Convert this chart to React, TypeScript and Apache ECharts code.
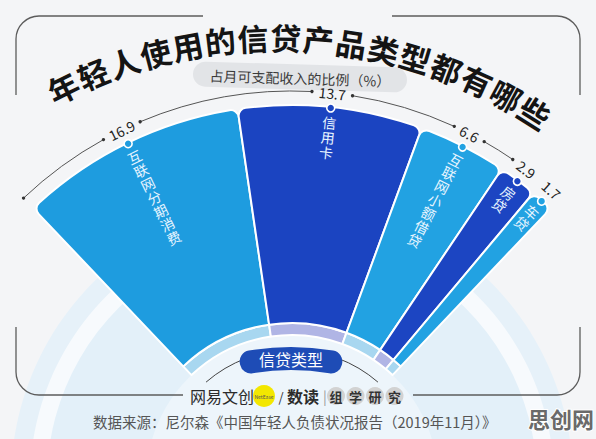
import React, { useEffect, useRef } from "react";
import * as echarts from "echarts";

const categories = ["互联网分期消费", "信用卡", "互联网小额借贷", "房贷", "车贷"];
const values = [16.9, 13.7, 6.6, 2.9, 1.7];
const valueLabels = ["16.9", "13.7", "6.6", "2.9", "1.7"];
const titleText = "年轻人使用的信贷产品类型都有哪些";
const subtitleText = "占月可支配收入的比例（%）";
const centerLabel = "信贷类型";
const brandMain = "网易文创";
const brandSub = "数读";
const brandCircles = ["组", "学", "研", "究"];
const sourceText = "数据来源：尼尔森《中国年轻人负债状况报告（2019年11月）》";
const watermark = "思创网";

const mainColors = ["#1e9cdf", "#1b44c1", "#22a2e2", "#1c45c2", "#22a2e2"];
const bandColors = ["#a8d7f0", "#b0b5e5", "#a8d7f0", "#b0b5e5", "#a8d7f0"];

const FONT = '"Noto Sans CJK SC", "Noto Sans", sans-serif';
const CX = 292;
const CY = 481;
const R_OUT = 376;
const R_IN = 158;
const R_BAND = 146;
const START = -43.5;
const SPAN = 87;

const framePath =
  "M16 95 L16 39 A23 23 0 0 1 39 16 L203 16 M392 16 L557 16 A23 23 0 0 1 580 39 L580 95 M16 327 L16 372 A23 23 0 0 0 39 395 L183 395 M413 395 L557 395 A23 23 0 0 0 580 372 L580 327";
echarts.graphic.registerShape("frame", echarts.graphic.extendPath(framePath, {}) as any);

const rad = (d: number) => (d * Math.PI) / 180;
const polar = (r: number, deg: number, cx = CX, cy = CY) => [cx + r * Math.sin(rad(deg)), cy - r * Math.cos(rad(deg))];
const screenAng = (deg: number) => rad(deg - 90);

export default function App() {
  const ref = useRef<HTMLDivElement>(null);
  useEffect(() => {
    if (!ref.current) return;
    const chart = echarts.init(ref.current, undefined, { renderer: "svg" });
    const total = values.reduce((a, b) => a + b, 0);
    let acc = START;
    const mids = values.map((v) => {
      const s = acc;
      acc += (v / total) * SPAN;
      return (s + acc) / 2;
    });

    const els: any[] = [];
    // background rings
    els.push({ type: "circle", z: 0, shape: { cx: CX, cy: CY, r: 281 }, style: { fill: "#e6f1f9" } });
    els.push({ type: "circle", z: 0, shape: { cx: CX, cy: CY, r: 262 }, style: { fill: "#f7fafd" } });
    els.push({ type: "circle", z: 0, shape: { cx: CX, cy: CY, r: 245 }, style: { fill: "#e3f0f9" } });
    els.push({ type: "circle", z: 0, shape: { cx: CX, cy: CY, r: R_BAND }, style: { fill: "#edf5fb" } });

    // frame
    els.push({ type: "frame", z: 10, x: 0, y: 0, style: { fill: "none", stroke: "#5c5c5c", lineWidth: 1.3 } });

    // title along arc
    const TCX = 277, TCY = 520, TR = 483;
    const tStart = -26.3, tEnd = 32.3;
    const tChars = titleText.split("");
    tChars.forEach((ch, i) => {
      const d = tStart + ((tEnd - tStart) * i) / (tChars.length - 1);
      const [x, y] = polar(TR, d, TCX, TCY);
      els.push({
        type: "text", z: 10, x, y, rotation: -rad(d),
        style: { text: ch, fontSize: 31, fontWeight: "bold", fontFamily: FONT, fill: "#141414", align: "center", verticalAlign: "middle" },
      });
    });

    // subtitle pill
    els.push({
      type: "group", z: 10, x: 300, y: 77, rotation: -0.03,
      children: [
        { type: "rect", z: 10, shape: { x: -107, y: -12.5, width: 214, height: 25, r: 12.5 }, style: { fill: "#e2e4e7" } },
        { type: "text", z: 11, x: 0, y: 1, style: { text: subtitleText, fontSize: 14, fontFamily: FONT, fill: "#3a3a3a", align: "center", verticalAlign: "middle" } },
      ],
    });

    // value arc with gaps
    const RA = 390;
    const halfGap = valueLabels.map((t) => ((t.length * 7.2) / 2 + 6) / RA * (180 / Math.PI));
    const segs: [number, number][] = [];
    let s0 = START;
    mids.forEach((m, i) => {
      const e = m - halfGap[i];
      if (e > s0) segs.push([s0, e]);
      s0 = m + halfGap[i];
    });
    segs.forEach(([a, b]) => {
      els.push({
        type: "arc", z: 10,
        shape: { cx: CX, cy: CY, r: RA, startAngle: screenAng(a), endAngle: screenAng(b), clockwise: true },
        style: { stroke: "#555", lineWidth: 1, fill: null },
      });
      [a, b].forEach((d) => {
        const [x, y] = polar(RA, d);
        els.push({ type: "circle", z: 11, shape: { cx: x, cy: y, r: 1.7 }, style: { fill: "#333" } });
      });
    });
    mids.forEach((m, i) => {
      const [x, y] = polar(RA, m);
      els.push({
        type: "text", z: 11, x, y, rotation: -rad(m),
        style: { text: valueLabels[i], fontSize: 14, fontFamily: FONT, fill: "#222", align: "center", verticalAlign: "middle" },
      });
      // dot on sector edge
      const [dx, dy] = polar(R_OUT - 1, m);
      els.push({ type: "circle", z: 11, shape: { cx: dx, cy: dy, r: 4 }, style: { fill: mainColors[i], stroke: "#ffffff", lineWidth: 1.6 } });
      // sector label
      const [lx, ly] = polar(368, m);
      els.push({
        type: "text", z: 11, x: lx, y: ly, rotation: -rad(m),
        style: {
          text: categories[i].split("").join("\n"), fontSize: 14, lineHeight: 15, fontFamily: FONT,
          fill: "#e8f5ff", align: "center", verticalAlign: "top",
        },
      });
    });

    // center pill with arc
    els.push({
      type: "arc", z: 10,
      shape: { cx: CX, cy: CY, r: 131, startAngle: screenAng(-41), endAngle: screenAng(41), clockwise: true },
      style: { stroke: "#444", lineWidth: 1, fill: null },
    });
    els.push({
      type: "sector", z: 12,
      shape: { cx: 291, cy: 600, r0: 230, r: 253, startAngle: screenAng(-12.2), endAngle: screenAng(12.2), clockwise: true, cornerRadius: 11 },
      style: { fill: "#1e4cb6" },
    });
    els.push({
      type: "text", z: 13, x: 291, y: 359,
      style: { text: centerLabel, fontSize: 16, fontFamily: FONT, fill: "#ffffff", align: "center", verticalAlign: "middle" },
    });

    // brand line
    els.push({ type: "text", z: 10, x: 190, y: 396, style: { text: brandMain, fontSize: 16, fontFamily: FONT, fill: "#2b2b2b", align: "left", verticalAlign: "middle" } });
    els.push({ type: "circle", z: 10, shape: { cx: 264, cy: 396, r: 11 }, style: { fill: "#f3e700" } });
    els.push({ type: "text", z: 11, x: 264, y: 396, style: { text: "NetEase", fontSize: 5, fontFamily: FONT, fill: "#555", align: "center", verticalAlign: "middle" } });
    els.push({ type: "text", z: 10, x: 281, y: 396, style: { text: "/", fontSize: 13, fontFamily: FONT, fill: "#333", align: "center", verticalAlign: "middle" } });
    els.push({ type: "text", z: 10, x: 287, y: 396, style: { text: brandSub, fontSize: 16, fontWeight: "bold", fontFamily: FONT, fill: "#2b2b2b", align: "left", verticalAlign: "middle" } });
    els.push({ type: "text", z: 10, x: 325, y: 396, style: { text: "|", fontSize: 14, fontFamily: FONT, fill: "#999", align: "center", verticalAlign: "middle" } });
    brandCircles.forEach((c, i) => {
      const x = 336 + i * 19.5;
      els.push({ type: "circle", z: 10, shape: { cx: x, cy: 396, r: 9 }, style: { fill: "#d2d2d2" } });
      els.push({ type: "text", z: 11, x, y: 396, style: { text: c, fontSize: 13, fontWeight: "bold", fontFamily: FONT, fill: "#333", align: "center", verticalAlign: "middle" } });
    });

    // source
    els.push({ type: "text", z: 10, x: 93, y: 421, style: { text: sourceText, fontSize: 14.5, fontFamily: FONT, fill: "#555", align: "left", verticalAlign: "middle" } });
    // watermark
    els.push({ type: "text", z: 10, x: 561, y: 418, style: { text: watermark, fontSize: 22, fontWeight: "bold", fontFamily: FONT, fill: "#6a6a6a", stroke: "#ffffff", lineWidth: 2, align: "center", verticalAlign: "middle" } });

    const option: any = {
      animation: false,
      backgroundColor: "#f4f5f7",
      graphic: { elements: els },
      series: [
        {
          type: "pie", z: 2, silent: true, center: [CX, CY], radius: [R_BAND, R_IN],
          startAngle: 90 - START, endAngle: 90 - START - SPAN, clockwise: true,
          label: { show: false }, labelLine: { show: false }, emphasis: { disabled: true },
          itemStyle: { borderColor: "#ffffff", borderWidth: 2 },
          data: values.map((v, i) => ({ value: v, name: categories[i], itemStyle: { color: bandColors[i] } })),
        },
        {
          type: "pie", z: 3, silent: true, center: [CX, CY], radius: [R_IN, R_OUT],
          startAngle: 90 - START, endAngle: 90 - START - SPAN, clockwise: true,
          label: { show: false }, labelLine: { show: false }, emphasis: { disabled: true },
          itemStyle: { borderColor: "#ffffff", borderWidth: 2, borderRadius: [0, 8] },
          data: values.map((v, i) => ({ value: v, name: categories[i], itemStyle: { color: mainColors[i] } })),
        },
      ],
    };
    chart.setOption(option);
    return () => chart.dispose();
  }, []);
  return <div ref={ref} style={{ position: "fixed", left: 0, top: 0, width: 596, height: 439 }} />;
}
